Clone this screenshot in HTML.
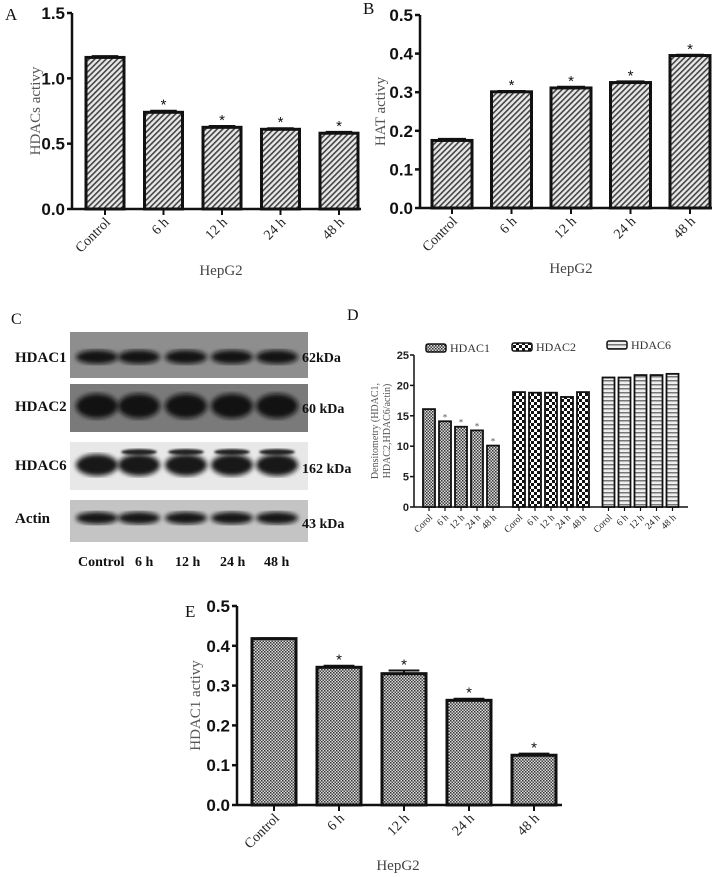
<!DOCTYPE html>
<html><head><meta charset="utf-8"><style>
body{margin:0;background:#fff;width:722px;height:877px;overflow:hidden;font-family:"Liberation Serif",serif}
svg{position:absolute;left:0;top:0}
</style></head><body>
<svg id="fig" width="722" height="877" viewBox="0 0 722 877" xmlns="http://www.w3.org/2000/svg">
<defs>
<pattern id="diag" patternUnits="userSpaceOnUse" width="4" height="4" patternTransform="rotate(45)"><rect width="4" height="4" fill="#e8e8e8"/><rect width="1.6" height="4" fill="#444"/></pattern>
<pattern id="dots" patternUnits="userSpaceOnUse" width="3" height="3"><rect width="3" height="3" fill="#ddd"/><rect width="1.5" height="1.5" fill="#333"/><rect x="1.5" y="1.5" width="1.5" height="1.5" fill="#444"/></pattern>
<pattern id="check" patternUnits="userSpaceOnUse" width="6" height="6"><rect width="6" height="6" fill="#fff"/><rect width="3" height="3" fill="#111"/><rect x="3" y="3" width="3" height="3" fill="#111"/></pattern>
<pattern id="hstripe" patternUnits="userSpaceOnUse" width="4" height="4"><rect width="4" height="4" fill="#eee"/><rect width="4" height="1.5" fill="#777"/></pattern>
<filter id="blur"><feGaussianBlur stdDeviation="2.5"/></filter>
<filter id="blur1"><feGaussianBlur stdDeviation="1"/></filter>
</defs>
<g id="panelA"></g>
<g id="panelB"></g>
<g id="panelC"></g>
<g id="panelD"></g>
<g id="panelE"></g>
</svg>
<script>
const NS="http://www.w3.org/2000/svg";
const categories=["Control","6 h","12 h","24 h","48 h"];
const hdacsValues=[1.16,0.74,0.625,0.61,0.58];
const hdacsErr=[0.01,0.012,0.01,0.008,0.01];
const hdacsTicks=["0.0","0.5","1.0","1.5"];
const hatValues=[0.175,0.301,0.311,0.325,0.395];
const hatErr=[0.004,0.002,0.003,0.003,0.002];
const hatTicks=["0.0","0.1","0.2","0.3","0.4","0.5"];
const hdac1ActValues=[0.418,0.346,0.33,0.263,0.125];
const hdac1ActErr=[0.001,0.004,0.008,0.004,0.004];
const hdac1ActTicks=["0.0","0.1","0.2","0.3","0.4","0.5"];
const densCategories=["Corol","6 h","12 h","24 h","48 h"];
const densHDAC1=[16.1,14.1,13.2,12.6,10.1];
const densHDAC2=[18.9,18.8,18.8,18.1,18.9];
const densHDAC6=[21.3,21.3,21.7,21.7,21.9];
const densTicks=["0","5","10","15","20","25"];
const starsA=[false,true,true,true,true];
const starsB=[false,true,true,true,true];
const starsE=[false,true,true,true,true];
const starsD=[false,true,true,true,true];

function el(parent,tag,attrs,text){const e=document.createElementNS(NS,tag);for(const k in attrs)e.setAttribute(k,attrs[k]);if(text!==undefined)e.textContent=text;parent.appendChild(e);return e;}

function barChart(g,o){
  const y=v=>o.y0-(v/o.max)*(o.y0-o.yTop);
  const x=i=>o.c0+i*o.step;
  let a=el(g,'line',{x1:o.ax,y1:o.yTop,x2:o.ax,y2:o.y0,stroke:'#111','stroke-width':2.5});
  
  a=el(g,'line',{x1:o.ax,y1:o.y0,x2:o.axEnd,y2:o.y0,stroke:'#111','stroke-width':2.5});
  
  o.ticks.forEach((t,i)=>{const v=parseFloat(t);const ty=y(v);
    el(g,'line',{x1:o.ax-5,y1:ty,x2:o.ax,y2:ty,stroke:'#111','stroke-width':2.5});
    const tx=el(g,'text',{x:o.ax-7,y:ty+6,'text-anchor':'end','font-family':'Liberation Sans,sans-serif','font-weight':'bold','font-size':o.tfs||17,fill:'#111'},t);
    });
  o.values.forEach((v,i)=>{const cx=x(i);
    const r=el(g,'rect',{x:cx-o.bw/2,y:y(v),width:o.bw,height:o.y0-y(v),fill:o.fill,stroke:'#111','stroke-width':3});
    
    const e=o.err[i];const ey=y(v+e);
    el(g,'line',{x1:cx,y1:y(v),x2:cx,y2:ey,stroke:'#111','stroke-width':2});
    el(g,'line',{x1:cx-o.bw*0.35,y1:ey,x2:cx+o.bw*0.35,y2:ey,stroke:'#111','stroke-width':2});
    if(o.stars[i]){const s=el(g,'text',{x:cx,y:ey-1,'text-anchor':'middle','font-size':15,'font-family':'Liberation Sans,sans-serif',fill:'#111'},'*');
      }
    el(g,'line',{x1:cx,y1:o.y0,x2:cx,y2:o.y0+6,stroke:'#111','stroke-width':2});
    const lab=el(g,'text',{x:cx+6,y:o.y0+14,'text-anchor':'end','font-size':o.lfs||14,fill:'#222',transform:`rotate(-45 ${cx+6} ${o.y0+14})`},o.cats[i]);
    });
  const yt=el(g,'text',{x:o.ytx,y:(o.yTop+o.y0)/2,'text-anchor':'middle','font-size':15,fill:'#555',transform:`rotate(-90 ${o.ytx} ${(o.yTop+o.y0)/2})`},o.ytitle);
  
  const xt=el(g,'text',{x:o.xtx,y:o.xty,'text-anchor':'middle','font-size':15,fill:'#444'},'HepG2');
  
  const pl=el(g,'text',{x:o.plx,y:o.ply,'font-size':17,fill:'#111'},o.panel);
  
}

barChart(document.getElementById('panelA'),{values:hdacsValues,err:hdacsErr,cats:categories,ticks:hdacsTicks,stars:starsA,max:1.5,y0:209,yTop:13,ax:72,axEnd:361,c0:105,step:58.5,bw:38,fill:'url(#diag)',ytitle:'HDACs activy',ytx:40,xtx:221,xty:275,plx:5,ply:20,panel:'A'});
barChart(document.getElementById('panelB'),{values:hatValues,err:hatErr,cats:categories,ticks:hatTicks,stars:starsB,max:0.5,y0:208,yTop:15,ax:420,axEnd:712,c0:452,step:59.5,bw:40,fill:'url(#diag)',ytitle:'HAT activy',ytx:385,xtx:571,xty:273,plx:363,ply:14,panel:'B'});
barChart(document.getElementById('panelE'),{values:hdac1ActValues,err:hdac1ActErr,cats:categories,ticks:hdac1ActTicks,stars:starsE,max:0.5,y0:805,yTop:606,ax:237,axEnd:562,c0:274,step:65,bw:44,fill:'url(#dots)',ytitle:'HDAC1 activy',ytx:200,xtx:398,xty:870,plx:185,ply:617,panel:'E'});

// Panel D
(function(){
  const g=document.getElementById('panelD');
  const y0=507,yTop=355,max=25,ax=414;
  const y=v=>y0-(v/max)*(y0-yTop);
  const groups=[{vals:densHDAC1,fill:'url(#dots)',start:429,name:'HDAC1',lx:426,ly:348},
                {vals:densHDAC2,fill:'url(#check)',start:519,name:'HDAC2',lx:512,ly:347},
                {vals:densHDAC6,fill:'url(#hstripe)',start:608.5,name:'HDAC6',lx:607,ly:345}];
  let a=el(g,'line',{x1:ax,y1:yTop,x2:ax,y2:y0,stroke:'#111','stroke-width':1.5});
  a=el(g,'line',{x1:ax,y1:y0,x2:688,y2:y0,stroke:'#111','stroke-width':1.5});
  densTicks.forEach(t=>{const ty=y(parseFloat(t));el(g,'line',{x1:ax-4,y1:ty,x2:ax,y2:ty,stroke:'#111','stroke-width':1.5});
    const tx=el(g,'text',{x:ax-5,y:ty+4,'text-anchor':'end','font-family':'Liberation Sans,sans-serif','font-weight':'bold','font-size':11,fill:'#222'},t);
    });
  groups.forEach((gr,gi)=>{gr.vals.forEach((v,i)=>{const cx=gr.start+i*16;
    const r=el(g,'rect',{x:cx-6,y:y(v),width:12,height:y0-y(v),fill:gr.fill,stroke:'#111','stroke-width':1.8});
    
    if(gi===0&&starsD[i]){const s=el(g,'text',{x:cx,y:y(v)-1,'text-anchor':'middle','font-size':9,fill:'#555'},'*');}
    el(g,'line',{x1:cx,y1:y0,x2:cx,y2:y0+4,stroke:'#111','stroke-width':1.2});
    const lab=el(g,'text',{x:cx+4,y:y0+11,'text-anchor':'end','font-size':9.5,fill:'#222',transform:`rotate(-45 ${cx+4} ${y0+11})`},densCategories[i]);
    });
    const lr=el(g,'rect',{x:gr.lx,y:gr.ly-4,width:20,height:8,rx:2,fill:gr.fill,stroke:'#111','stroke-width':1.5});
    
    const lt=el(g,'text',{x:gr.lx+24,y:gr.ly+4,'font-size':12,fill:'#333'},gr.name);
    });
  const t1=el(g,'text',{x:378,y:431,'text-anchor':'middle','font-size':10,fill:'#555',transform:'rotate(-90 378 431)'},'Densitometry (HDAC1,');
  
  const t2=el(g,'text',{x:390,y:431,'text-anchor':'middle','font-size':10,fill:'#555',transform:'rotate(-90 390 431)'},'HDAC2,HDAC6/actin)');
  
  const pl=el(g,'text',{x:347,y:320,'font-size':16,fill:'#111'},'D');
})();

// Panel C western blot
(function(){
  const g=document.getElementById('panelC');
  const lanes=[97,139,186,232,277];
  const rows=[{name:'HDAC1',kda:'62kDa',y:332,h:46,bg:'#8e8e8e',by:357,bh:9,ky:362},
              {name:'HDAC2',kda:'60 kDa',y:384,h:48,bg:'#7a7a7a',by:406,bh:16,ky:413},
              {name:'HDAC6',kda:'162 kDa',y:442,h:48,bg:'#e8e8e8',by:465,bh:14,ky:473},
              {name:'Actin',kda:'43 kDa',y:500,h:42,bg:'#c4c4c4',by:518,bh:8,ky:528}];
  rows.forEach(r=>{
    const bg=el(g,'rect',{x:70,y:r.y,width:238,height:r.h,fill:r.bg});
    lanes.forEach((lx,i)=>{
      el(g,'ellipse',{cx:lx,cy:r.by,rx:21,ry:r.bh/1.3,fill:'#111',filter:'url(#blur)',opacity:0.95});
      if(r.name==='HDAC6'&&i>0){el(g,'ellipse',{cx:lx,cy:r.by-13,rx:18,ry:3,fill:'#222',filter:'url(#blur1)'});}
    });
    const l=el(g,'text',{x:15,y:r.by+5,'font-weight':'bold','font-size':15,fill:'#111'},r.name);
    const k=el(g,'text',{x:302,y:r.ky,'font-weight':'bold','font-size':14,fill:'#111'},r.kda);
  });
  const lx=[78,135,175,220,264];
  categories.forEach((c,i)=>{const t=el(g,'text',{x:lx[i],y:566,'font-weight':'bold','font-size':14,fill:'#111'},c);});
  const pl=el(g,'text',{x:11,y:324,'font-size':16,fill:'#111'},'C');
})();
</script>
</body></html>
